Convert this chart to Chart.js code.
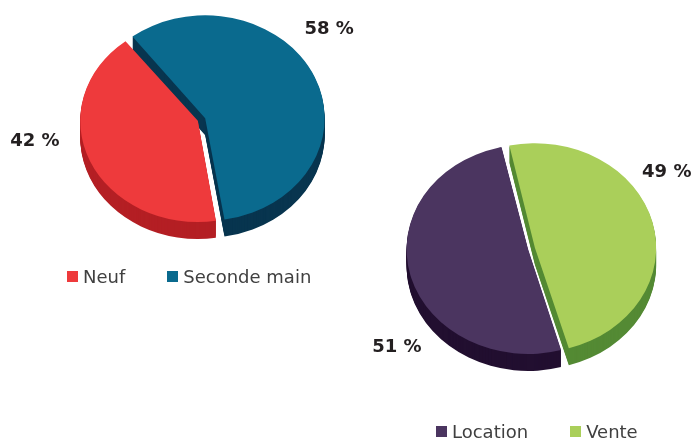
<!DOCTYPE html>
<html><head><meta charset="utf-8">
<script src="https://cdn.jsdelivr.net/npm/chart.js@4/dist/chart.umd.min.js"></script>
<style>
html,body{margin:0;padding:0;background:#fff;width:694px;height:441px;overflow:hidden;position:relative;font-family:"DejaVu Sans",sans-serif}
.cv{position:absolute;left:0;top:-30px;width:694px;height:500px}
.legend{position:absolute;display:flex;align-items:center;font-size:18px;color:#404040;white-space:nowrap;line-height:21px}
.legend .item{display:flex;align-items:center;margin-right:42px}
.legend .box{width:11px;height:11px;margin-right:5px}
</style></head><body>
<div class="cv"><canvas id="c1"></canvas></div>
<div class="cv"><canvas id="c2"></canvas></div>
<div class="legend" id="lg1" style="left:67px;top:266px"></div>
<div class="legend" id="lg2" style="left:436px;top:421px"></div>
<script>
// ---- data ----
const categoriesA = ['Neuf', 'Seconde main'];
const valuesA = [42, 58];
const categoriesB = ['Location', 'Vente'];
const valuesB = [51, 49];

// ---- styles ----
const topColorsA = ['#ee3a3c', '#0a6a8e'];
const sideColorsA = ['#b41f24', '#08354f'];
const topColorsB = ['#4b3560', '#aacf5a'];
const sideColorsB = ['#220f30', '#548a34'];

const pie3d = {
  id: 'pie3d',
  beforeDatasetsDraw(chart, args, opts) {
    const ctx = chart.ctx;
    const meta = chart.getDatasetMeta(0);
    const a0 = meta.data[0];
    const cx = a0.x, cy = a0.y, k = opts.tilt;
    for (let s = opts.depth; s >= 1; s--) {
      ctx.save();
      ctx.translate(0, s);
      ctx.translate(cx, cy); ctx.scale(1, k); ctx.translate(-cx, -cy);
      meta.data.forEach((arc, i) => {
        const f = Object.create(arc);
        f.options = Object.assign({}, arc.options, {backgroundColor: opts.sideColors[i], borderWidth: 0});
        f.draw(ctx);
      });
      ctx.restore();
    }
    ctx.save();
    ctx.translate(cx, cy); ctx.scale(1, k); ctx.translate(-cx, -cy);
  },
  afterDatasetsDraw(chart, args, opts) {
    const ctx = chart.ctx;
    ctx.restore();
    const meta = chart.getDatasetMeta(0);
    const vals = chart.data.datasets[0].data;
    ctx.save();
    ctx.font = 'bold 18px "DejaVu Sans"';
    ctx.fillStyle = '#231f20';
    ctx.textAlign = 'center';
    ctx.textBaseline = 'middle';
    meta.data.forEach((arc, i) => {
      const a = opts.labelAngles[i] * Math.PI / 180;
      const r = arc.outerRadius * opts.labelDist[i];
      ctx.fillText(vals[i] + ' %', arc.x + r * Math.cos(a), arc.y + r * Math.sin(a) * opts.tilt);
    });
    ctx.restore();
  }
};

function makePie(id, cats, vals, tops, sides, rotation, radius, offset, padding, tilt, depth, labelAngles, labelDist) {
  return new Chart(document.getElementById(id), {
    type: 'pie',
    data: {
      labels: cats,
      datasets: [{
        data: vals,
        backgroundColor: tops,
        borderWidth: 0,
        offset: offset,
        hoverOffset: 0,
        radius: radius,
        clip: false
      }]
    },
    options: {
      responsive: true,
      maintainAspectRatio: false,
      animation: false,
      events: [],
      rotation: rotation,
      layout: {padding: padding},
      plugins: {
        legend: {display: false},
        tooltip: {enabled: false},
        pie3d: {tilt: tilt, depth: depth, sideColors: sides, labelAngles: labelAngles, labelDist: labelDist}
      }
    },
    plugins: [pie3d]
  });
}

makePie('c1', categoriesA, valuesA, topColorsA, sideColorsA, 171, 115.5, 16,
  {left: 71.5, right: 362.5, top: 19.5, bottom: 220.5}, 0.86, 17, [171.5, -39.5], [1.458, 1.432]);
makePie('c2', categoriesB, valuesB, topColorsB, sideColorsB, 164, 118, 14,
  {left: 401.5, right: 32.5, top: 148.5, bottom: 91.5}, 0.862, 17, [139.7, -33.2], [1.495, 1.37]);

function legend(id, cats, cols) {
  const el = document.getElementById(id);
  cats.forEach((c, i) => {
    const it = document.createElement('div'); it.className = 'item';
    const b = document.createElement('span'); b.className = 'box'; b.style.background = cols[i];
    const t = document.createElement('span'); t.textContent = c;
    it.appendChild(b); it.appendChild(t); el.appendChild(it);
  });
}
legend('lg1', categoriesA, topColorsA);
legend('lg2', categoriesB, topColorsB);
</script>
</body></html>
